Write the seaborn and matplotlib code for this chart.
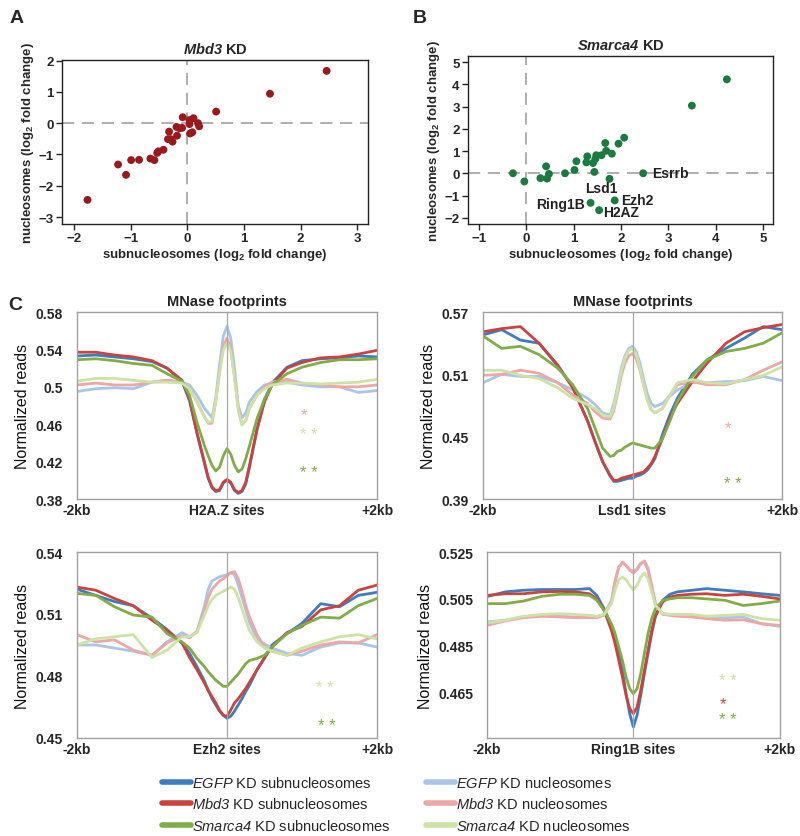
import numpy as np
import pandas as pd
import matplotlib
matplotlib.use("Agg")
import matplotlib.pyplot as plt
from matplotlib.lines import Line2D
import seaborn as sns

sns.set_style("white")
plt.rcParams['font.family'] = ['Liberation Sans', 'DejaVu Sans']
plt.rcParams['mathtext.fontset'] = 'custom'
plt.rcParams['mathtext.rm'] = 'Liberation Sans:bold'
plt.rcParams['mathtext.sf'] = 'Liberation Sans:italic'           # italic gene names (legend)
plt.rcParams['mathtext.tt'] = 'Liberation Sans:bold:italic'      # bold italic gene names (titles)

# ---- panel A: Mbd3 KD scatter ----
mbd3_sub = [-1.76, -1.22, -1.08, -0.99, -0.85, -0.65, -0.58, -0.53, -0.51, -0.42, -0.34, -0.32, -0.29,
            -0.26, -0.18, -0.19, -0.14, -0.09, -0.08, 0.04, 0.05, 0.09, 0.11, 0.19, 0.21, 0.04, 0.51, 1.46, 2.46]
mbd3_nuc = [-2.45, -1.32, -1.65, -1.18, -1.17, -1.13, -1.18, -0.95, -0.90, -0.85, -0.51, -0.27, -0.51,
            -0.59, -0.40, -0.12, -0.16, -0.15, 0.19, 0.10, -0.33, -0.29, 0.16, 0.0, -0.10, -0.03, 0.37, 0.94, 1.67]

# ---- panel B: Smarca4 KD scatter ----
smarca4_sub = [-0.28, -0.04, 0.30, 0.42, 0.44, 0.48, 0.82, 1.02, 1.06, 1.27, 1.29, 1.41, 1.44, 1.46,
               1.48, 1.59, 1.67, 1.69, 1.81, 1.76, 1.95, 2.07, 1.87, 1.36, 1.54, 2.47, 3.50, 4.24]
smarca4_nuc = [0.0, -0.37, -0.22, 0.31, -0.24, -0.03, 0.0, 0.15, 0.54, 0.49, 0.76, 0.46, 0.06, 0.64,
               0.81, 0.81, 1.36, 1.01, 0.88, -0.25, 1.33, 1.60, -1.22, -1.33, -1.66, 0.0, 3.04, 4.22]
b_labels = ['Esrrb', 'Lsd1', 'Ezh2', 'Ring1B', 'H2AZ']
b_label_x = [2.65, 1.58, 2.0, 1.23, 1.63]
b_label_y = [0.02, -0.66, -1.18, -1.36, -1.75]
b_label_ha = ['left', 'center', 'left', 'right', 'left']

# ---- panel C: MNase footprint profiles ----
kb = [-2.0, -1.75, -1.5, -1.25, -1.0, -0.8, -0.6, -0.5, -0.4, -0.3, -0.25, -0.2, -0.15, -0.1, -0.05, 0.0,
      0.05, 0.1, 0.15, 0.2, 0.25, 0.3, 0.4, 0.5, 0.6, 0.8, 1.0, 1.25, 1.5, 1.75, 2.0]

h2az_egfp_sub = [0.533, 0.534, 0.532, 0.530, 0.527, 0.520, 0.506, 0.485, 0.450, 0.418, 0.402, 0.392, 0.388, 0.389, 0.397, 0.400,
                 0.397, 0.389, 0.386, 0.388, 0.396, 0.414, 0.454, 0.486, 0.504, 0.521, 0.528, 0.530, 0.531, 0.533, 0.532]
h2az_egfp_nuc = [0.495, 0.498, 0.499, 0.498, 0.505, 0.507, 0.505, 0.502, 0.491, 0.477, 0.472, 0.467, 0.488, 0.523, 0.554, 0.565,
                 0.552, 0.520, 0.480, 0.467, 0.472, 0.484, 0.495, 0.502, 0.504, 0.505, 0.502, 0.500, 0.500, 0.494, 0.496]
h2az_mbd3_sub = [0.537, 0.537, 0.534, 0.532, 0.528, 0.520, 0.507, 0.487, 0.451, 0.419, 0.403, 0.393, 0.389, 0.390, 0.398, 0.401,
                 0.398, 0.390, 0.387, 0.389, 0.398, 0.416, 0.455, 0.484, 0.502, 0.520, 0.526, 0.531, 0.532, 0.535, 0.539]
h2az_mbd3_nuc = [0.502, 0.504, 0.502, 0.502, 0.505, 0.507, 0.505, 0.498, 0.484, 0.468, 0.461, 0.461, 0.484, 0.516, 0.543, 0.552,
                 0.541, 0.511, 0.477, 0.460, 0.464, 0.477, 0.491, 0.500, 0.505, 0.508, 0.504, 0.502, 0.500, 0.500, 0.502]
h2az_smarca4_sub = [0.529, 0.530, 0.528, 0.525, 0.523, 0.514, 0.506, 0.491, 0.462, 0.437, 0.426, 0.416, 0.410, 0.414, 0.426, 0.434,
                    0.428, 0.416, 0.409, 0.412, 0.423, 0.437, 0.466, 0.487, 0.502, 0.514, 0.521, 0.526, 0.529, 0.529, 0.530]
h2az_smarca4_nuc = [0.506, 0.509, 0.509, 0.507, 0.505, 0.505, 0.504, 0.498, 0.484, 0.468, 0.462, 0.463, 0.485, 0.514, 0.539, 0.547,
                    0.538, 0.509, 0.475, 0.459, 0.464, 0.478, 0.491, 0.498, 0.502, 0.504, 0.504, 0.503, 0.504, 0.505, 0.508]

lsd1_egfp_sub = [0.548, 0.553, 0.543, 0.540, 0.518, 0.498, 0.465, 0.445, 0.426, 0.412, 0.407, 0.407, 0.408, 0.409, 0.410, 0.410,
                 0.412, 0.413, 0.415, 0.418, 0.423, 0.429, 0.452, 0.471, 0.487, 0.510, 0.524, 0.535, 0.545, 0.556, 0.553]
lsd1_egfp_nuc = [0.502, 0.510, 0.508, 0.508, 0.502, 0.495, 0.487, 0.481, 0.473, 0.471, 0.482, 0.498, 0.516, 0.528, 0.535, 0.537,
                 0.532, 0.521, 0.505, 0.491, 0.482, 0.479, 0.482, 0.489, 0.495, 0.502, 0.502, 0.503, 0.504, 0.508, 0.504]
lsd1_mbd3_sub = [0.551, 0.554, 0.556, 0.540, 0.519, 0.497, 0.465, 0.445, 0.426, 0.413, 0.408, 0.408, 0.410, 0.411, 0.412, 0.413,
                 0.414, 0.415, 0.416, 0.420, 0.424, 0.431, 0.448, 0.468, 0.482, 0.503, 0.521, 0.540, 0.551, 0.555, 0.558]
lsd1_mbd3_nuc = [0.509, 0.510, 0.514, 0.511, 0.502, 0.490, 0.482, 0.474, 0.468, 0.467, 0.475, 0.492, 0.509, 0.521, 0.528, 0.530,
                 0.525, 0.514, 0.499, 0.485, 0.476, 0.473, 0.477, 0.490, 0.500, 0.503, 0.500, 0.500, 0.505, 0.514, 0.522]
lsd1_smarca4_sub = [0.547, 0.535, 0.537, 0.529, 0.516, 0.500, 0.477, 0.458, 0.439, 0.431, 0.432, 0.436, 0.437, 0.440, 0.442, 0.444,
                    0.443, 0.442, 0.441, 0.440, 0.439, 0.439, 0.448, 0.465, 0.484, 0.508, 0.524, 0.532, 0.535, 0.540, 0.550]
lsd1_smarca4_nuc = [0.514, 0.514, 0.509, 0.506, 0.497, 0.487, 0.481, 0.477, 0.471, 0.469, 0.478, 0.496, 0.513, 0.526, 0.533, 0.535,
                    0.529, 0.516, 0.500, 0.485, 0.476, 0.473, 0.477, 0.490, 0.502, 0.505, 0.502, 0.501, 0.505, 0.509, 0.517]

ezh2_egfp_sub = [0.522, 0.519, 0.516, 0.514, 0.508, 0.5025, 0.496, 0.491, 0.4845, 0.4775, 0.473, 0.469, 0.466, 0.463, 0.461, 0.4595,
                 0.4605, 0.463, 0.466, 0.469, 0.4725, 0.4755, 0.483, 0.4885, 0.495, 0.5005, 0.5055, 0.515, 0.5135, 0.519, 0.5205]
ezh2_egfp_nuc = [0.495, 0.495, 0.4935, 0.492, 0.490, 0.4965, 0.501, 0.499, 0.5015, 0.514, 0.522, 0.526, 0.527, 0.528, 0.5285, 0.529,
                 0.530, 0.529, 0.524, 0.518, 0.512, 0.506, 0.498, 0.4955, 0.4935, 0.491, 0.490, 0.494, 0.496, 0.496, 0.494]
ezh2_mbd3_sub = [0.523, 0.5215, 0.5175, 0.514, 0.507, 0.502, 0.496, 0.489, 0.483, 0.4765, 0.473, 0.470, 0.467, 0.4635, 0.461, 0.4605,
                 0.4635, 0.467, 0.469, 0.4715, 0.474, 0.477, 0.483, 0.489, 0.494, 0.501, 0.504, 0.512, 0.514, 0.5215, 0.524]
ezh2_mbd3_nuc = [0.500, 0.4965, 0.4975, 0.4925, 0.490, 0.496, 0.4995, 0.4985, 0.5015, 0.512, 0.518, 0.522, 0.524, 0.526, 0.527, 0.5285,
                 0.530, 0.5305, 0.527, 0.521, 0.514, 0.5085, 0.500, 0.494, 0.492, 0.490, 0.492, 0.495, 0.4965, 0.496, 0.500]
ezh2_smarca4_sub = [0.520, 0.519, 0.5135, 0.5095, 0.5085, 0.5005, 0.4965, 0.4935, 0.4885, 0.4845, 0.482, 0.480, 0.478, 0.4765, 0.475, 0.475,
                    0.477, 0.479, 0.481, 0.4835, 0.486, 0.4875, 0.4885, 0.490, 0.494, 0.5005, 0.5045, 0.5085, 0.508, 0.514, 0.5175]
ezh2_smarca4_nuc = [0.495, 0.498, 0.499, 0.500, 0.489, 0.4925, 0.499, 0.499, 0.501, 0.5095, 0.514, 0.517, 0.519, 0.520, 0.521, 0.522,
                    0.523, 0.522, 0.518, 0.5125, 0.507, 0.502, 0.4965, 0.4935, 0.492, 0.490, 0.4935, 0.4965, 0.499, 0.500, 0.498]

ring1b_egfp_sub = [0.506, 0.508, 0.5087, 0.509, 0.509, 0.509, 0.5094, 0.5065, 0.5008, 0.4937, 0.488, 0.4817, 0.4745, 0.4646, 0.456, 0.4504,
                   0.4554, 0.4639, 0.4731, 0.4817, 0.4902, 0.4973, 0.5044, 0.507, 0.508, 0.5087, 0.5094, 0.5087, 0.508, 0.5072, 0.5065]
ring1b_egfp_nuc = [0.4952, 0.4959, 0.4973, 0.498, 0.4976, 0.4973, 0.497, 0.4973, 0.4984, 0.5044, 0.5129, 0.5186, 0.5203, 0.5193, 0.5175, 0.5165,
                   0.5179, 0.5203, 0.5207, 0.5172, 0.5101, 0.503, 0.4987, 0.4984, 0.4984, 0.498, 0.4973, 0.497, 0.4973, 0.4944, 0.4933]
ring1b_mbd3_sub = [0.5065, 0.5072, 0.5072, 0.508, 0.5082, 0.508, 0.5072, 0.505, 0.5001, 0.4916, 0.4859, 0.4788, 0.4717, 0.4639, 0.4582, 0.4561,
                   0.4589, 0.466, 0.4745, 0.4831, 0.4916, 0.498, 0.5037, 0.5058, 0.5065, 0.507, 0.5072, 0.5065, 0.507, 0.5061, 0.505]
ring1b_mbd3_nuc = [0.4937, 0.4956, 0.497, 0.4976, 0.4973, 0.497, 0.497, 0.497, 0.498, 0.5037, 0.5122, 0.5186, 0.5207, 0.5193, 0.5172, 0.5161,
                   0.5175, 0.520, 0.5212, 0.5179, 0.5108, 0.5033, 0.4984, 0.498, 0.4976, 0.4973, 0.4966, 0.4959, 0.4961, 0.4944, 0.4937]
ring1b_smarca4_sub = [0.503, 0.503, 0.5041, 0.5061, 0.507, 0.507, 0.5065, 0.5044, 0.5001, 0.4944, 0.4902, 0.4845, 0.4788, 0.4717, 0.4667, 0.4646,
                      0.4667, 0.4731, 0.4817, 0.4902, 0.4966, 0.5008, 0.5044, 0.505, 0.5055, 0.5055, 0.505, 0.5044, 0.5022, 0.503, 0.5041]
ring1b_smarca4_nuc = [0.4947, 0.4959, 0.4976, 0.4984, 0.4987, 0.4984, 0.498, 0.4976, 0.4984, 0.503, 0.5087, 0.5132, 0.5143, 0.5132, 0.5108, 0.5089,
                      0.5108, 0.5143, 0.5161, 0.5136, 0.508, 0.5023, 0.4987, 0.4984, 0.4984, 0.4984, 0.4976, 0.498, 0.4984, 0.4966, 0.4959]

series_names = ['EGFP sub', 'EGFP nuc', 'Mbd3 sub', 'Mbd3 nuc', 'Smarca4 sub', 'Smarca4 nuc']
series_colors = ['#3d7cc0', '#a9c6e8', '#c9443e', '#eea6a6', '#80ad47', '#cde3a5']
legend_labels = [r'$\mathsf{EGFP}$ KD subnucleosomes', r'$\mathsf{EGFP}$ KD nucleosomes',
                 r'$\mathsf{Mbd3}$ KD subnucleosomes', r'$\mathsf{Mbd3}$ KD nucleosomes',
                 r'$\mathsf{Smarca4}$ KD subnucleosomes', r'$\mathsf{Smarca4}$ KD nucleosomes']

panels = [
    ('H2A.Z sites', [h2az_egfp_sub, h2az_egfp_nuc, h2az_mbd3_sub, h2az_mbd3_nuc, h2az_smarca4_sub, h2az_smarca4_nuc],
     (0.38, 0.58), [0.38, 0.42, 0.46, 0.5, 0.54, 0.58], ['0.38', '0.42', '0.46', '0.5', '0.54', '0.58'],
     [('*', 1.03, 0.470, 3), ('* *', 1.09, 0.449, 5), ('* *', 1.09, 0.408, 4)]),
    ('Lsd1 sites', [lsd1_egfp_sub, lsd1_egfp_nuc, lsd1_mbd3_sub, lsd1_mbd3_nuc, lsd1_smarca4_sub, lsd1_smarca4_nuc],
     (0.39, 0.57), [0.39, 0.45, 0.51, 0.57], ['0.39', '0.45', '0.51', '0.57'],
     [('*', 1.28, 0.459, 3), ('* *', 1.34, 0.405, 4)]),
    ('Ezh2 sites', [ezh2_egfp_sub, ezh2_egfp_nuc, ezh2_mbd3_sub, ezh2_mbd3_nuc, ezh2_smarca4_sub, ezh2_smarca4_nuc],
     (0.45, 0.54), [0.45, 0.48, 0.51, 0.54], ['0.45', '0.48', '0.51', '0.54'],
     [('* *', 1.31, 0.4745, 5), ('* *', 1.33, 0.456, 4)]),
    ('Ring1B sites', [ring1b_egfp_sub, ring1b_egfp_nuc, ring1b_mbd3_sub, ring1b_mbd3_nuc, ring1b_smarca4_sub, ring1b_smarca4_nuc],
     (0.4457, 0.525), [0.465, 0.485, 0.505, 0.525], ['0.465', '0.485', '0.505', '0.525'],
     [('* *', 1.285, 0.470, 5), ('*', 1.22, 0.4605, 2), ('* *', 1.285, 0.4537, 4)]),
]

fig = plt.figure(figsize=(8, 8.37), dpi=100)

# ---------- scatter panels ----------
def style_scatter(ax):
    for s in ax.spines.values():
        s.set_color('#222222')
        s.set_linewidth(1.0)
    ax.tick_params(direction='out', length=4, width=1, color='#222222', labelsize=9.5,
                   left=True, bottom=True, pad=2)
    for lab in ax.get_xticklabels() + ax.get_yticklabels():
        lab.set_fontweight('bold')
    ax.set_xlabel(r'subnucleosomes (log$_2$ fold change)', fontsize=9.5, fontweight='bold', labelpad=1)
    ax.set_ylabel(r'nucleosomes (log$_2$ fold change)', fontsize=9.5, fontweight='bold', labelpad=2)
    ax.axhline(0, color='#999999', lw=1.1, dashes=(8, 5), zorder=0)
    ax.axvline(0, color='#999999', lw=1.1, dashes=(8, 5), zorder=0)

axA = fig.add_axes([0.0775, 0.7312, 0.3825, 0.196])
sns.scatterplot(x=mbd3_sub, y=mbd3_nuc, ax=axA, color='#981a1d', s=32, edgecolor='none', zorder=3)
axA.set_xlim(-2.21, 3.19)
axA.set_ylim(-3.22, 2.02)
axA.set_xticks([-2, -1, 0, 1, 2, 3])
axA.set_yticks([-3, -2, -1, 0, 1, 2])
style_scatter(axA)
axA.set_title(r'$\mathtt{Mbd3}$ KD', fontsize=10.5, fontweight='bold', pad=5)

axB = fig.add_axes([0.585, 0.7312, 0.381, 0.2007])
sns.scatterplot(x=smarca4_sub, y=smarca4_nuc, ax=axB, color='#1b7a3d', s=32, edgecolor='none', zorder=3)
axB.set_xlim(-1.23, 5.21)
axB.set_ylim(-2.28, 5.27)
axB.set_xticks([-1, 0, 1, 2, 3, 4, 5])
axB.set_yticks([-2, -1, 0, 1, 2, 3, 4, 5])
style_scatter(axB)
axB.set_title(r'$\mathtt{Smarca4}$ KD', fontsize=10.5, fontweight='bold', pad=5)
for lab, lx, ly, ha in zip(b_labels, b_label_x, b_label_y, b_label_ha):
    axB.text(lx, ly, lab, ha=ha, va='center', fontsize=10, fontweight='bold', color='#222222')

# ---------- profile panels ----------
rects = [[0.09625, 0.4026, 0.375, 0.2234], [0.60375, 0.4026, 0.37375, 0.2234],
         [0.09625, 0.1171, 0.375, 0.2222], [0.60875, 0.1171, 0.366, 0.2222]]

for i, (site, curves, ylim, yticks, yticklabels, stars) in enumerate(panels):
    ax = fig.add_axes(rects[i])
    rows = []
    for name, vals in zip(series_names, curves):
        for xv, yv in zip(kb, vals):
            rows.append((xv, yv, name))
    df = pd.DataFrame(rows, columns=['kb', 'reads', 'series'])
    sns.lineplot(data=df, x='kb', y='reads', hue='series', hue_order=series_names,
                 palette=series_colors, ax=ax, legend=False, linewidth=2.0, estimator=None)
    ax.axvline(0, color='#a8a8a8', lw=0.9, zorder=5)
    ax.set_xlim(-2, 2)
    ax.set_ylim(*ylim)
    ax.set_yticks(yticks)
    ax.set_yticklabels(yticklabels)
    ax.set_xticks([-2, 0, 2])
    ax.set_xticklabels(['-2kb', site, '+2kb'])
    ax.tick_params(axis='x', length=0, labelsize=10, pad=3)
    ax.tick_params(axis='y', length=0, labelsize=10, pad=10)
    for lab in ax.get_xticklabels() + ax.get_yticklabels():
        lab.set_fontweight('bold')
    ax.set_xlabel('')
    ax.set_ylabel('Normalized reads', fontsize=11.5, labelpad=4, color='#111111')
    for s in ax.spines.values():
        s.set_color('#a0a0a0')
        s.set_linewidth(1.0)
    if i < 2:
        ax.set_title('MNase footprints', fontsize=10.5, fontweight='bold', pad=5)
    for txt, sx, sy, ci in stars:
        ax.text(sx, sy, txt, ha='center', va='center', fontsize=12, color=series_colors[ci])

# ---------- legend (subnucleosomes left column, nucleosomes right column) ----------
leg_order = [0, 2, 4, 1, 3, 5]
handles = [Line2D([0], [0], color=series_colors[k], lw=4, solid_capstyle='round') for k in leg_order]
labels = [legend_labels[k] for k in leg_order]
fig.legend(handles, labels, loc='upper left', bbox_to_anchor=(0.202, 0.073), ncol=2,
           frameon=False, fontsize=10.5, handlelength=2.0, handletextpad=0.1,
           columnspacing=2.4, labelspacing=0.45, borderaxespad=0, borderpad=0)

# panel letters
fig.text(0.012, 0.988, 'A', fontsize=14, fontweight='bold', va='top')
fig.text(0.516, 0.988, 'B', fontsize=14, fontweight='bold', va='top')
fig.text(0.010, 0.645, 'C', fontsize=14, fontweight='bold', va='top')

fig.savefig('out.png', dpi=100)
